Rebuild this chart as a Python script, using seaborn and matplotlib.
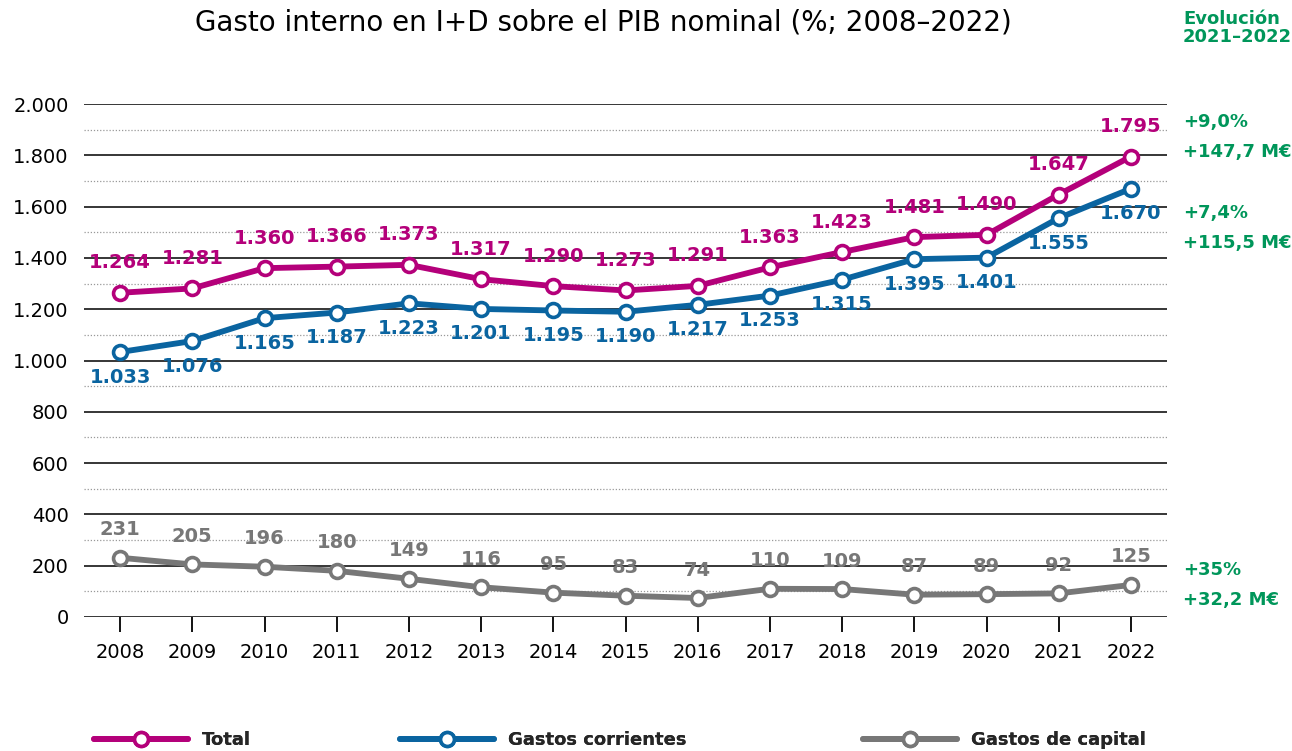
import numpy as np
import pandas as pd
import seaborn as sns
import matplotlib.pyplot as plt
from matplotlib.ticker import MultipleLocator
from matplotlib.lines import Line2D

# ========================================
# Data
# ========================================
years = ['2008', '2009', '2010', '2011', '2012', '2013', '2014', '2015',
         '2016', '2017', '2018', '2019', '2020', '2021', '2022']
total = [1264, 1281, 1360, 1366, 1373, 1317, 1290, 1273, 1291, 1363, 1423, 1481, 1490, 1647, 1795]
corrientes = [1033, 1076, 1165, 1187, 1223, 1201, 1195, 1190, 1217, 1253, 1315, 1395, 1401, 1555, 1670]
capital = [231, 205, 196, 180, 149, 116, 95, 83, 74, 110, 109, 87, 89, 92, 125]

series_names = ['Total', 'Gastos corrientes', 'Gastos de capital']
series_colors = ['#b4007a', '#0a64a0', '#777777']
label_offsets = [30, -25, 28]   # pixels above/below each point

evol_pct = ['+9,0%', '+7,4%', '+35%']
evol_meur = ['+147,7 M€', '+115,5 M€', '+32,2 M€']
evol_ypix = [122, 213, 570]     # vertical position (px from top) of each pair
green = '#00965a'

df = pd.DataFrame({
    'year': years * 3,
    'x': list(range(len(years))) * 3,
    'value': total + corrientes + capital,
    'serie': np.repeat(series_names, len(years)),
})

# ========================================
# Figure
# ========================================
sns.set_theme(style='white')
plt.rcParams['font.family'] = ['DejaVu Sans']

W, H = 1292, 751
fig = plt.figure(figsize=(W / 100, H / 100), dpi=100)
ax = fig.add_axes([84 / W, 1 - 617 / H, (1167 - 84) / W, (617 - 104) / H])

for name, color, off in zip(series_names, series_colors, label_offsets):
    sub = df[df['serie'] == name]
    sns.lineplot(data=sub, x='x', y='value', color=color, linewidth=4.2,
                 marker='o', markersize=10, markerfacecolor='white',
                 markeredgecolor=color, markeredgewidth=2.6, ax=ax, zorder=4)
    for xi, v in zip(sub['x'], sub['value']):
        txt = f"{v:,}".replace(',', '.')
        ax.annotate(txt, (xi, v), xytext=(0, off), textcoords='offset pixels',
                    ha='center', va='center', fontsize=14, fontweight='bold',
                    color=color, zorder=5, annotation_clip=False)

ax.set_xlim(-0.5, len(years) - 0.5)
ax.set_ylim(0, 2000)
ax.yaxis.set_minor_locator(MultipleLocator(100))
yt = np.arange(0, 2001, 200)
ax.set_yticks(yt)
ax.set_yticklabels([f"{int(v):,}".replace(',', '.') for v in yt], fontsize=14, color='black')
ax.set_xticks(range(len(years)))
ax.set_xticklabels(years, fontsize=14, color='black')

ax.grid(which='major', axis='y', color='black', linewidth=1.1, linestyle='-', zorder=0)
ax.grid(which='minor', axis='y', color='#999999', linewidth=0.9, linestyle=(0, (1, 1.5)), zorder=0)
ax.set_axisbelow(True)
for s in ax.spines.values():
    s.set_visible(False)

ax.tick_params(axis='y', which='both', length=0, pad=11)
ax.tick_params(axis='x', which='major', direction='out', length=11, width=1.3,
               color='black', pad=8, bottom=True)
ax.set_xlabel('')
ax.set_ylabel('')

# title
fig.text(0.467, 0.97, 'Gasto interno en I+D sobre el PIB nominal (%; 2008–2022)',
         ha='center', va='center', fontsize=20, color='black')
fig.text(1183 / W, 1 - 28 / H, 'Evolución\n2021–2022', ha='left', va='center',
         fontsize=13, fontweight='bold', color=green, linespacing=0.95)

# right side evolution annotations
for pct, me, yp in zip(evol_pct, evol_meur, evol_ypix):
    fig.text(1183 / W, 1 - yp / H, pct, ha='left', va='center', fontsize=13,
             fontweight='bold', color=green)
    fig.text(1183 / W, 1 - (yp + 30) / H, me, ha='left', va='center', fontsize=13,
             fontweight='bold', color=green)

# legend: three separate entries at the bottom
legend_x = [88 / W, 394 / W, 857 / W]
for name, color, lx in zip(series_names, series_colors, legend_x):
    h = Line2D([], [], color=color, linewidth=4.2, marker='o', markersize=10,
               markerfacecolor='white', markeredgecolor=color, markeredgewidth=2.6)
    leg = fig.legend([h], [name], loc='center left', bbox_to_anchor=(lx - 0.008, 11 / H),
                     frameon=False, handlelength=5.2, handletextpad=0.8,
                     prop={'weight': 'bold', 'size': 13})
    fig.add_artist(leg)

plt.savefig('out.png', dpi=100)
